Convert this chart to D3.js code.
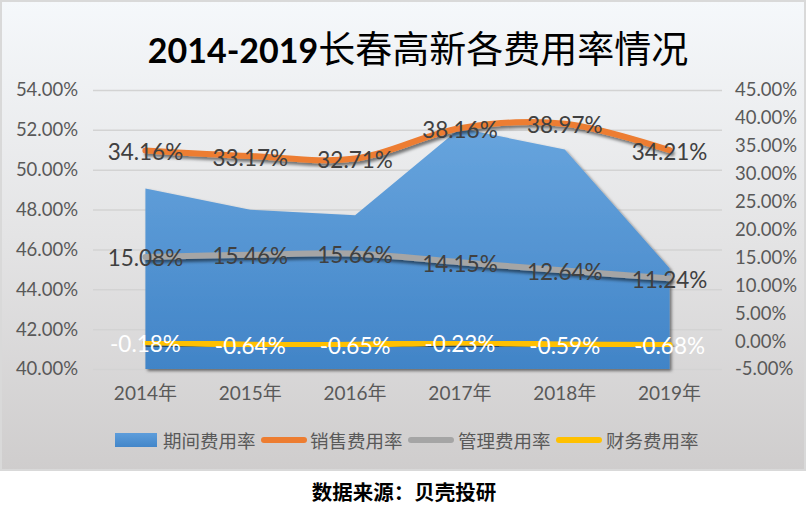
<!DOCTYPE html>
<html><head><meta charset="utf-8">
<script src="https://cdn.jsdelivr.net/npm/d3@7"></script>
<style>
html,body{margin:0;padding:0;background:#fff;}
svg{display:block;}
text{font-family:Lato,"Noto Sans CJK SC",sans-serif;}
</style></head>
<body>
<svg id="chart" width="806" height="508"></svg>
<script>
const years = ['2014年','2015年','2016年','2017年','2018年','2019年'];
const periodRate = [49.06, 47.99, 47.72, 52.08, 51.02, 45.05]; // 期间费用率 (left axis)
const salesRate  = [34.16, 33.17, 32.71, 38.16, 38.97, 34.21]; // 销售费用率 (right axis)
const mgmtRate   = [15.08, 15.46, 15.66, 14.15, 12.64, 11.24]; // 管理费用率 (right axis)
const finRate    = [-0.18, -0.64, -0.65, -0.23, -0.59, -0.68]; // 财务费用率 (right axis)
const leftTicks  = [40, 42, 44, 46, 48, 50, 52, 54];
const rightTicks = [-5, 0, 5, 10, 15, 20, 25, 30, 35, 40, 45];
const seriesNames = ['期间费用率','销售费用率','管理费用率','财务费用率'];
const titleNum = '2014-2019';
const titleText = '长春高新各费用率情况';
const sourceText = '数据来源：贝壳投研';

const svg = d3.select('#chart');
const defs = svg.append('defs');

const bg = defs.append('linearGradient').attr('id','bg').attr('x1',0).attr('y1',0).attr('x2',0).attr('y2',1);
bg.append('stop').attr('offset','0%').attr('stop-color','#f5f8fb');
bg.append('stop').attr('offset','50%').attr('stop-color','#e4e4e5');
bg.append('stop').attr('offset','100%').attr('stop-color','#cfcdcd');

const ag = defs.append('linearGradient').attr('id','areaGrad').attr('gradientUnits','userSpaceOnUse')
  .attr('x1',0).attr('y1',125).attr('x2',0).attr('y2',369);
ag.append('stop').attr('offset','0%').attr('stop-color','#68a5de');
ag.append('stop').attr('offset','100%').attr('stop-color','#4184c7');

const lg = defs.append('linearGradient').attr('id','legGrad').attr('x1',0).attr('y1',0).attr('x2',0).attr('y2',1);
lg.append('stop').attr('offset','0%').attr('stop-color','#5d9ddb');
lg.append('stop').attr('offset','100%').attr('stop-color','#4386c9');

function shadow(id, dx, dy, sd, op){
  const f = defs.append('filter').attr('id',id).attr('x','-10%').attr('y','-30%').attr('width','130%').attr('height','180%');
  f.append('feDropShadow').attr('dx',dx).attr('dy',dy).attr('stdDeviation',sd)
   .attr('flood-color','#000').attr('flood-opacity',op);
}
shadow('shLine', 2, 3, 1.6, 0.5);
shadow('shArea', 2, 2, 1.8, 0.5);

// chart box
svg.append('rect').attr('x',1).attr('y',1).attr('width',804).attr('height',469)
  .attr('fill','url(#bg)').attr('stroke','#d9d9d9').attr('stroke-width',2);

const L = 93, R = 722, T = 90, B = 369;
const x = d3.scaleBand().domain(years).range([L, R]);
const cx = d => x(d) + x.bandwidth()/2;
const yL = d3.scaleLinear().domain([40, 54]).range([B, T]);
const yR = d3.scaleLinear().domain([-5, 45]).range([B, T]);

// gridlines
const grid = svg.append('g').attr('transform',`translate(${L},0)`)
  .call(d3.axisLeft(yL).tickValues(leftTicks).tickSize(-(R-L)).tickFormat(''));
grid.select('.domain').remove();
grid.selectAll('line').attr('stroke','#d3d3d3').attr('stroke-width',1.5);

// left axis
const ax1 = svg.append('g').attr('transform',`translate(${L},0)`)
  .call(d3.axisLeft(yL).tickValues(leftTicks).tickSize(0).tickPadding(15).tickFormat(d => d.toFixed(2) + '%'));
ax1.select('.domain').remove();
ax1.selectAll('text').attr('fill','#595959').style('font-size','18.5px').style('font-family','Lato');

// right axis
const ax2 = svg.append('g').attr('transform',`translate(${R},0)`)
  .call(d3.axisRight(yR).tickValues(rightTicks).tickSize(0).tickPadding(13).tickFormat(d => d.toFixed(2) + '%'));
ax2.select('.domain').remove();
ax2.selectAll('text').attr('fill','#595959').style('font-size','18.5px').style('font-family','Lato');

// area
const area = d3.area().x((d,i) => cx(years[i])).y0(yL(40)).y1(d => yL(d));
svg.append('path').datum(periodRate).attr('d', area)
  .attr('fill','url(#areaGrad)').attr('filter','url(#shArea)');

// x axis labels
const ax3 = svg.append('g').attr('transform',`translate(0,${B})`)
  .call(d3.axisBottom(x).tickSize(0).tickPadding(18));
ax3.select('.domain').remove();
ax3.selectAll('text').attr('fill','#595959').style('font-size','19px');

// lines
const line = d3.line().x((d,i) => cx(years[i])).y(d => yR(d)).curve(d3.curveCatmullRom.alpha(0.5));
const lineSeries = [
  {vals: salesRate, color:'#ed7d31', label:'#404040'},
  {vals: mgmtRate, color:'#a5a5a5', label:'#404040'},
  {vals: finRate, color:'#ffc000', label:'#ffffff'}
];
lineSeries.forEach(s => {
  svg.append('path').datum(s.vals).attr('d', line)
    .attr('fill','none').attr('stroke', s.color).attr('stroke-width',6)
    .attr('stroke-linecap','round').attr('filter','url(#shLine)');
});
lineSeries.forEach(s => {
  svg.append('g').selectAll('text').data(s.vals).join('text')
    .attr('x',(d,i) => cx(years[i])).attr('y', d => yR(d) + 1)
    .attr('text-anchor','middle').attr('dominant-baseline','central')
    .attr('fill', s.label).style('font-size','22.5px')
    .text(d => d.toFixed(2) + '%');
});

// title
const title = svg.append('text').attr('x',418).attr('y',63).attr('text-anchor','middle').attr('fill','#000');
title.append('tspan').style('font-family','Lato').style('font-weight','bold').style('font-size','34px').text(titleNum);
title.append('tspan').style('font-family','"Noto Sans CJK SC"').style('font-weight','400').style('font-size','37px').text(titleText);

// legend
const legY = 440;
const leg = svg.append('g');
leg.append('rect').attr('x',115).attr('y',legY-7).attr('width',42).attr('height',14).attr('fill','url(#legGrad)');
const legItems = [
  {x0:115, tx:163},
  {x0:261, tx:310, color:'#ed7d31'},
  {x0:408, tx:458, color:'#a5a5a5'},
  {x0:556, tx:606, color:'#ffc000'}
];
legItems.forEach((it, i) => {
  if (i > 0) {
    leg.append('line').attr('x1',it.x0+3).attr('x2',it.x0+43).attr('y1',legY).attr('y2',legY)
      .attr('stroke',it.color).attr('stroke-width',6).attr('stroke-linecap','round');
  }
  leg.append('text').attr('x',it.tx).attr('y',legY).attr('dominant-baseline','central')
    .attr('fill','#595959').style('font-size','18.5px').style('font-family','"Noto Sans CJK SC"')
    .text(seriesNames[i]);
});

// source
svg.append('text').attr('x',404).attr('y',491).attr('text-anchor','middle').attr('dominant-baseline','central')
  .attr('fill','#000').style('font-family','"Noto Sans CJK SC"').style('font-weight','bold').style('font-size','20.5px')
  .text(sourceText);
</script>
</body></html>
